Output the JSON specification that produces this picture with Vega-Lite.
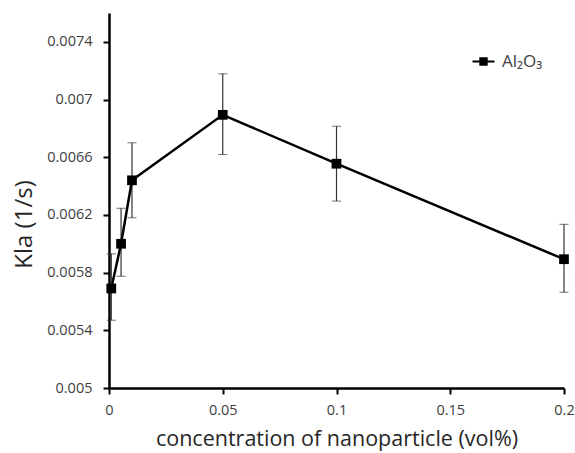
{
  "$schema": "https://vega.github.io/schema/vega-lite/v6.json",
  "width": 455,
  "height": 375,
  "autosize": {"type": "none"},
  "padding": {"left": 109, "top": 13, "right": 11, "bottom": 65},
  "background": "white",
  "config": {
    "view": {"stroke": null},
    "font": "Open Sans",
    "axis": {"grid": false, "domainColor": "black", "domainWidth": 2.5, "tickColor": "black", "tickWidth": 2, "tickSize": 6, "labelColor": "#404040", "labelFontSize": 14.5, "labelFont": "Open Sans", "titleFont": "Open Sans", "titleFontWeight": "normal", "titleColor": "#262626"}
  },
  "data": {
    "values": [
      {"series": "Al₂O₃", "conc": 0.001, "kla": 0.00569, "lo": 0.00547, "hi": 0.00593},
      {"series": "Al₂O₃", "conc": 0.0053, "kla": 0.00600, "lo": 0.005775, "hi": 0.006246},
      {"series": "Al₂O₃", "conc": 0.0101, "kla": 0.00644, "lo": 0.00618, "hi": 0.0067},
      {"series": "Al₂O₃", "conc": 0.05, "kla": 0.006894, "lo": 0.006619, "hi": 0.007178},
      {"series": "Al₂O₃", "conc": 0.1, "kla": 0.006555, "lo": 0.006296, "hi": 0.006815},
      {"series": "Al₂O₃", "conc": 0.2, "kla": 0.005893, "lo": 0.005664, "hi": 0.006135}
    ]
  },
  "encoding": {
    "x": {
      "field": "conc", "type": "quantitative",
      "scale": {"domain": [0, 0.2], "nice": false, "zero": false},
      "axis": {"values": [0, 0.05, 0.1, 0.15, 0.2], "format": "~g", "title": "concentration of nanoparticle (vol%)", "titleFontSize": 21.5, "titlePadding": 12, "labelPadding": 9, "labelFlush": false, "domainWidth": 2.5, "domainColor": "black"}
    }
  },
  "layer": [
    {
      "mark": {"type": "errorbar", "ticks": {"size": 9, "color": "#333333", "strokeWidth": 1.2}, "rule": {"color": "#333333", "strokeWidth": 1.2}},
      "encoding": {
        "y": {"field": "lo", "type": "quantitative", "scale": {"domain": [0.005, 0.0076], "nice": false, "zero": false},
          "axis": {"values": [0.005, 0.0054, 0.0058, 0.0062, 0.0066, 0.007, 0.0074], "format": ".4~f", "title": "Kla (1/s)", "titleFontSize": 24, "titlePadding": 10, "titleY": 211, "labelPadding": 11, "domainWidth": 2.5, "domainColor": "black"}},
        "y2": {"field": "hi"}
      }
    },
    {
      "mark": {"type": "line", "color": "black", "strokeWidth": 2.5},
      "encoding": {"y": {"field": "kla", "type": "quantitative"}}
    },
    {
      "mark": {"type": "point", "shape": "square", "filled": true, "opacity": 1, "size": 95},
      "encoding": {
        "y": {"field": "kla", "type": "quantitative"},
        "color": {"field": "series", "type": "nominal", "scale": {"range": ["black"]},
          "legend": {"title": null, "orient": "none", "legendX": 366, "legendY": 40, "symbolType": "M-1.6,0H1.6M-0.45,-0.45H0.45V0.45H-0.45Z", "symbolSize": 190, "symbolStrokeWidth": 2.2, "symbolStrokeColor": "black", "symbolFillColor": "black", "labelFontSize": 17, "labelColor": "#404040", "labelOffset": 10}}
      }
    }
  ]
}
